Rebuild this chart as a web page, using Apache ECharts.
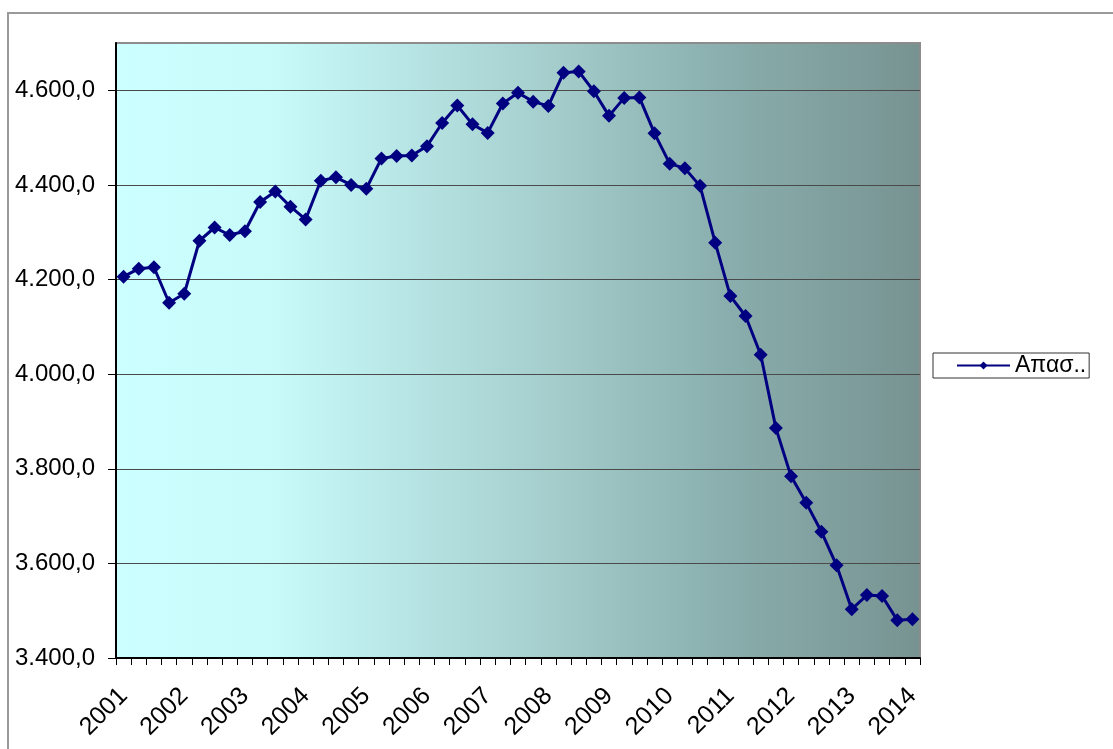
<!DOCTYPE html>
<html>
<head>
<meta charset="utf-8">
<title>Απασχολούμενοι</title>
<script src="https://cdn.jsdelivr.net/npm/echarts@6/dist/echarts.min.js"></script>
<style>
  html, body { margin: 0; padding: 0; background: #fff; }
  #chart { width: 1113px; height: 749px; }
</style>
</head>
<body>
<div id="chart"></div>
<script>
// quarters 2001 Q1 .. 2014 Q1
const quarters = [
  '2001 Q1','2001 Q2','2001 Q3','2001 Q4',
  '2002 Q1','2002 Q2','2002 Q3','2002 Q4',
  '2003 Q1','2003 Q2','2003 Q3','2003 Q4',
  '2004 Q1','2004 Q2','2004 Q3','2004 Q4',
  '2005 Q1','2005 Q2','2005 Q3','2005 Q4',
  '2006 Q1','2006 Q2','2006 Q3','2006 Q4',
  '2007 Q1','2007 Q2','2007 Q3','2007 Q4',
  '2008 Q1','2008 Q2','2008 Q3','2008 Q4',
  '2009 Q1','2009 Q2','2009 Q3','2009 Q4',
  '2010 Q1','2010 Q2','2010 Q3','2010 Q4',
  '2011 Q1','2011 Q2','2011 Q3','2011 Q4',
  '2012 Q1','2012 Q2','2012 Q3','2012 Q4',
  '2013 Q1','2013 Q2','2013 Q3','2013 Q4',
  '2014 Q1'
];

// employed persons (thousands)
const employed = [
  4206, 4223, 4226, 4151,
  4170, 4282, 4310, 4294,
  4302, 4364, 4386, 4354,
  4327, 4409, 4416, 4400,
  4392, 4456, 4461, 4462,
  4482, 4531, 4568, 4528,
  4510, 4572, 4595, 4576,
  4567, 4637, 4640, 4598,
  4546, 4584, 4585, 4509,
  4445, 4435, 4398, 4278,
  4165, 4123, 4041, 3886,
  3784, 3728, 3667, 3596,
  3503, 3533, 3531, 3480,
  3482
];

// y axis ticks shown
const yTicks = [3400, 3600, 3800, 4000, 4200, 4400, 4600];

const seriesName = 'Απασ..';
const yMin = 3400, yMax = 4700, yStep = 200;

// 4600 -> "4.600,0"
function fmtGreek(v) {
  const s = v.toFixed(1).split('.');
  return s[0].replace(/\B(?=(\d{3})+(?!\d))/g, '.') + ',' + s[1];
}

const chart = echarts.init(document.getElementById('chart'), null, { renderer: 'canvas' });

const option = {
  backgroundColor: '#ffffff',
  animation: false,
  textStyle: { fontFamily: 'Liberation Sans, Arial, sans-serif' },
  graphic: [{
    type: 'rect',
    silent: true,
    shape: { x: 8, y: 13, width: 1115, height: 745 },
    style: { fill: 'none', stroke: '#9a9a9a', lineWidth: 2 }
  }],
  grid: {
    left: 116, right: 193, top: 43, bottom: 91,
    show: true,
    borderColor: '#8c8c8c',
    borderWidth: 2,
    backgroundColor: new echarts.graphic.LinearGradient(0, 0, 1, 0, [
      { offset: 0, color: '#ccffff' },
      { offset: 0.2, color: '#c8fafa' },
      { offset: 0.5, color: '#a9d3d2' },
      { offset: 0.75, color: '#8aafae' },
      { offset: 1, color: '#779391' }
    ])
  },
  legend: {
    left: 933, top: 353,
    orient: 'vertical',
    borderColor: '#333',
    borderWidth: 1,
    padding: [1, 3, 1, 23],
    itemWidth: 53,
    itemHeight: 10,
    itemGap: 0,
    textStyle: { fontSize: 23, color: '#000', fontFamily: 'Liberation Sans, Arial, sans-serif' },
    data: [seriesName]
  },
  xAxis: {
    type: 'category',
    data: quarters,
    boundaryGap: true,
    axisLine: { lineStyle: { color: '#000', width: 2 } },
    axisTick: { show: true, interval: 0, length: 7, lineStyle: { color: '#000' } },
    axisLabel: {
      interval: 3,
      rotate: 45,
      margin: 34,
      fontSize: 25,
      color: '#000',
      formatter: function (v) { return v.slice(0, 4); }
    },
    splitLine: { show: false }
  },
  yAxis: {
    type: 'value',
    min: yMin, max: yMax, interval: yStep,
    axisLine: { show: true, lineStyle: { color: '#000', width: 2 } },
    axisTick: { show: true, length: 8, customValues: yTicks, lineStyle: { color: '#000' } },
    axisLabel: {
      margin: 21,
      fontSize: 24,
      color: '#000',
      customValues: yTicks,
      formatter: function (v) { return fmtGreek(v); }
    },
    splitLine: { show: true, lineStyle: { color: '#4a4a4a', width: 1 } }
  },
  series: [{
    name: seriesName,
    type: 'line',
    data: employed,
    symbol: 'diamond',
    symbolSize: 14,
    showAllSymbol: true,
    lineStyle: { color: '#000080', width: 3 },
    itemStyle: { color: '#000080' }
  }]
};

chart.setOption(option);
</script>
</body>
</html>
